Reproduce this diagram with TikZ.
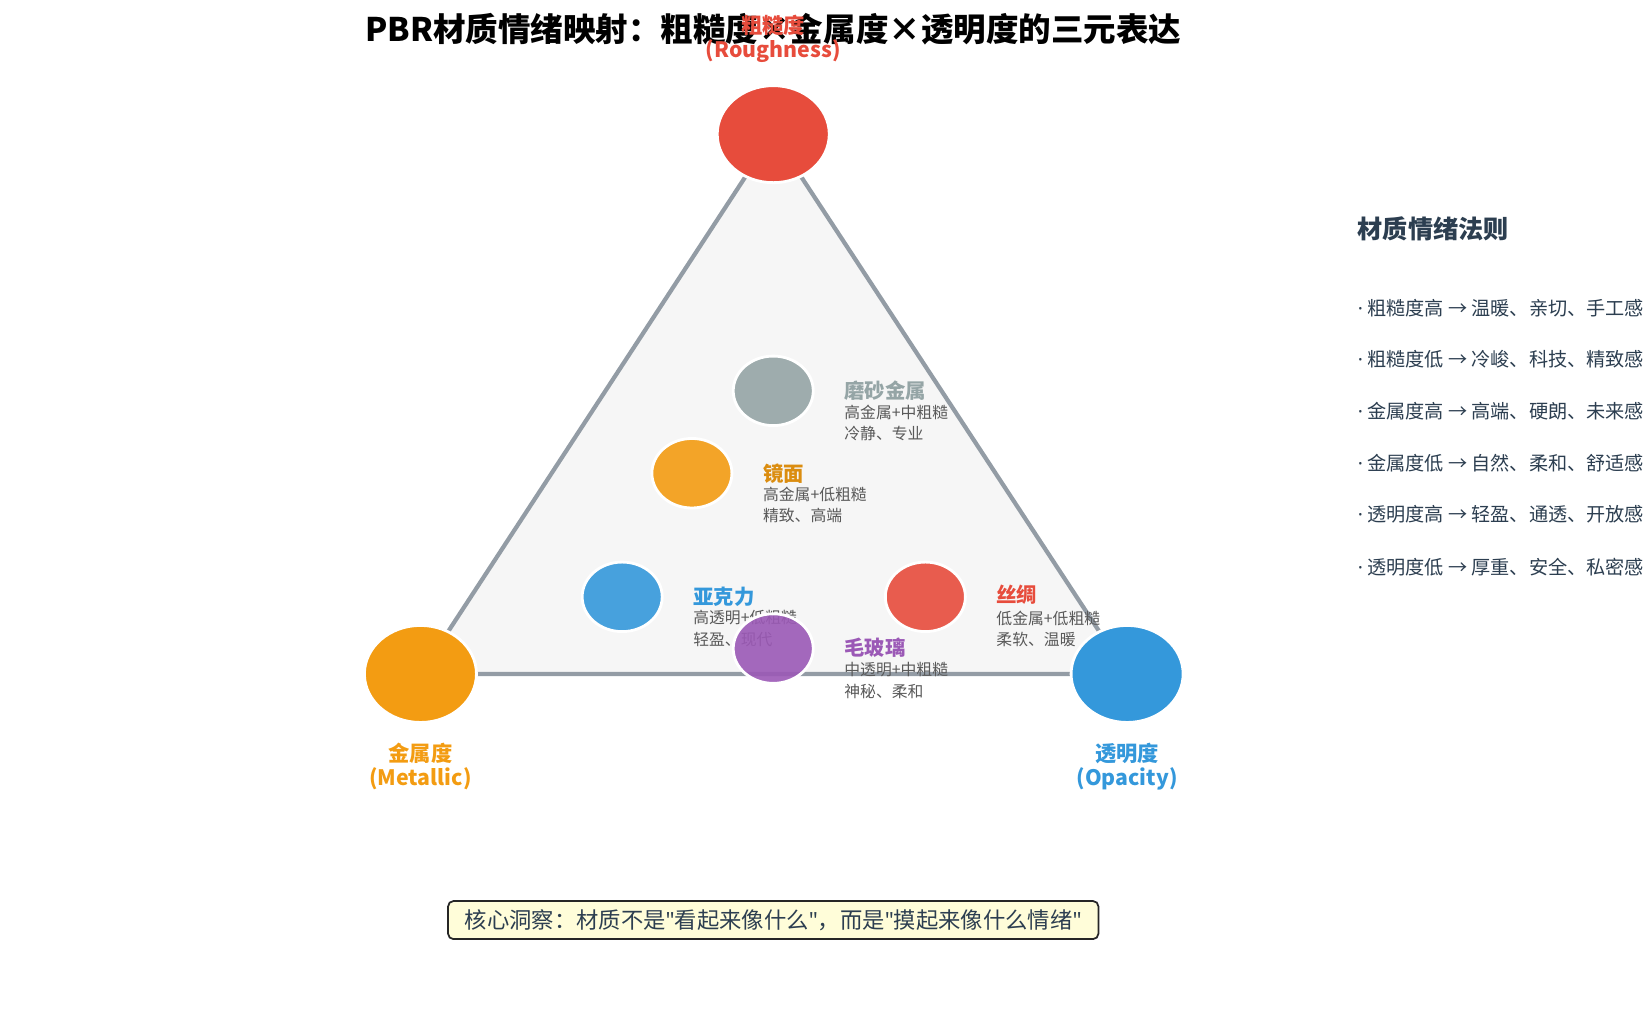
\documentclass[tikz,border=0pt]{standalone}
\usepackage{fontspec}
\setmainfont{Noto Sans CJK SC}
\newfontfamily\quotefont{Noto Sans}
\usetikzlibrary{shapes.geometric}
\definecolor{roughc}{HTML}{E74C3C}
\definecolor{metalc}{HTML}{F39C12}
\definecolor{opacc}{HTML}{3498DB}
\definecolor{frostc}{HTML}{95A5A6}
\definecolor{glassc}{HTML}{9B59B6}
\definecolor{edgec}{HTML}{939CA5}
\definecolor{darkc}{HTML}{2C3E50}
\newcommand{\dq}{{\quotefont"}}
\newcommand{\bul}{{\quotefont·} }
\tikzset{
	vertex/.style={ellipse,draw=white,line width=1.6pt,minimum width=2.24cm,minimum height=1.94cm,inner sep=0},
	mat/.style={ellipse,draw=white,line width=1.6pt,minimum width=1.6cm,minimum height=1.39cm,inner sep=0,fill opacity=.9,draw opacity=1},
	axis/.style={font=\fontsize{12.1}{13.7}\selectfont\bfseries,align=center},
	matname/.style={anchor=west,inner sep=0,font=\fontsize{11.6}{13}\selectfont\bfseries},
	desc/.style={anchor=west,inner sep=0,text=black!65,font=\fontsize{9}{11}\selectfont},
	rule/.style={anchor=west,inner sep=0,text=darkc,font=\fontsize{10.9}{12}\selectfont}
}
\begin{document}
\begin{tikzpicture}[x=0.02112cm,y=-0.02112cm]
	\useasboundingbox (0,0) rectangle (1562,967);
	\node[font=\fontsize{18.5}{21}\selectfont\bfseries] (title) at (732,28) {PBR材质情绪映射：粗糙度×金属度×透明度的三元表达};
	% triangle
	\coordinate (rc) at (732,127);
	\coordinate (mc) at (398,638);
	\coordinate (oc) at (1067,638);
	\filldraw[fill=gray!7,draw=edgec,line width=2.4pt] (rc) -- (mc) -- (oc) -- cycle;
	% vertices
	\node[vertex,fill=roughc] (rough) at (rc) {};
	\node[vertex,fill=metalc] (metal) at (mc) {};
	\node[vertex,fill=opacc] (opac) at (oc) {};
	\node[axis,text=roughc] (roughl) at (732,37) {粗糙度\\(Roughness)};
	\node[axis,text=metalc] (metall) at (398,726) {金属度\\(Metallic)};
	\node[axis,text=opacc] (opacl) at (1067,726) {透明度\\(Opacity)};
	% materials
	\node[mat,fill=frostc] (frost) at (732,370) {};
	\node[matname,text=frostc] (frostn) at (799,370) {磨砂金属};
	\node[desc] at (799,390) {高金属+中粗糙};
	\node[desc] at (799,410) {冷静、专业};
	\node[mat,fill=metalc] (mirror) at (655,448) {};
	\node[matname,text=metalc!90!black] (mirrorn) at (722,448) {镜面};
	\node[desc] at (722,468) {高金属+低粗糙};
	\node[desc] at (722,488) {精致、高端};
	\node[mat,fill=opacc] (acryl) at (589,565) {};
	\node[matname,text=opacc] (acryln) at (656,565) {亚克力};
	\node[desc] at (656,585) {高透明+低粗糙};
	\node[desc] at (656,605) {轻盈、现代};
	\node[mat,fill=roughc] (silk) at (876,565) {};
	\node[matname,text=roughc] (silkn) at (943,563) {丝绸};
	\node[desc] at (943,585) {低金属+低粗糙};
	\node[desc] at (943,605) {柔软、温暖};
	\node[mat,fill=glassc] (glass) at (732,614) {};
	\node[matname,text=glassc] (glassn) at (799,613) {毛玻璃};
	\node[desc] at (799,634) {中透明+中粗糙};
	\node[desc] at (799,655) {神秘、柔和};
	% rules
	\node[anchor=west,inner sep=0,text=darkc,font=\fontsize{14.3}{16}\selectfont\bfseries] (rules) at (1285,217) {材质情绪法则};
	\node[rule] at (1285,292) {\bul 粗糙度高 → 温暖、亲切、手工感};
	\node[rule] at (1285,340) {\bul 粗糙度低 → 冷峻、科技、精致感};
	\node[rule] at (1285,389) {\bul 金属度高 → 高端、硬朗、未来感};
	\node[rule] at (1285,438) {\bul 金属度低 → 自然、柔和、舒适感};
	\node[rule] at (1285,487) {\bul 透明度高 → 轻盈、通透、开放感};
	\node[rule] at (1285,537) {\bul 透明度低 → 厚重、安全、私密感};
	% insight
	\node[draw=black!85,line width=1pt,rounded corners=3pt,fill=yellow!15,text=darkc,minimum width=13cm,minimum height=0.76cm,inner sep=2pt,font=\fontsize{12.7}{14}\selectfont] (insight) at (732,871) {核心洞察：材质不是\dq 看起来像什么\dq ，而是\dq 摸起来像什么情绪\dq};
\end{tikzpicture}
\end{document}
